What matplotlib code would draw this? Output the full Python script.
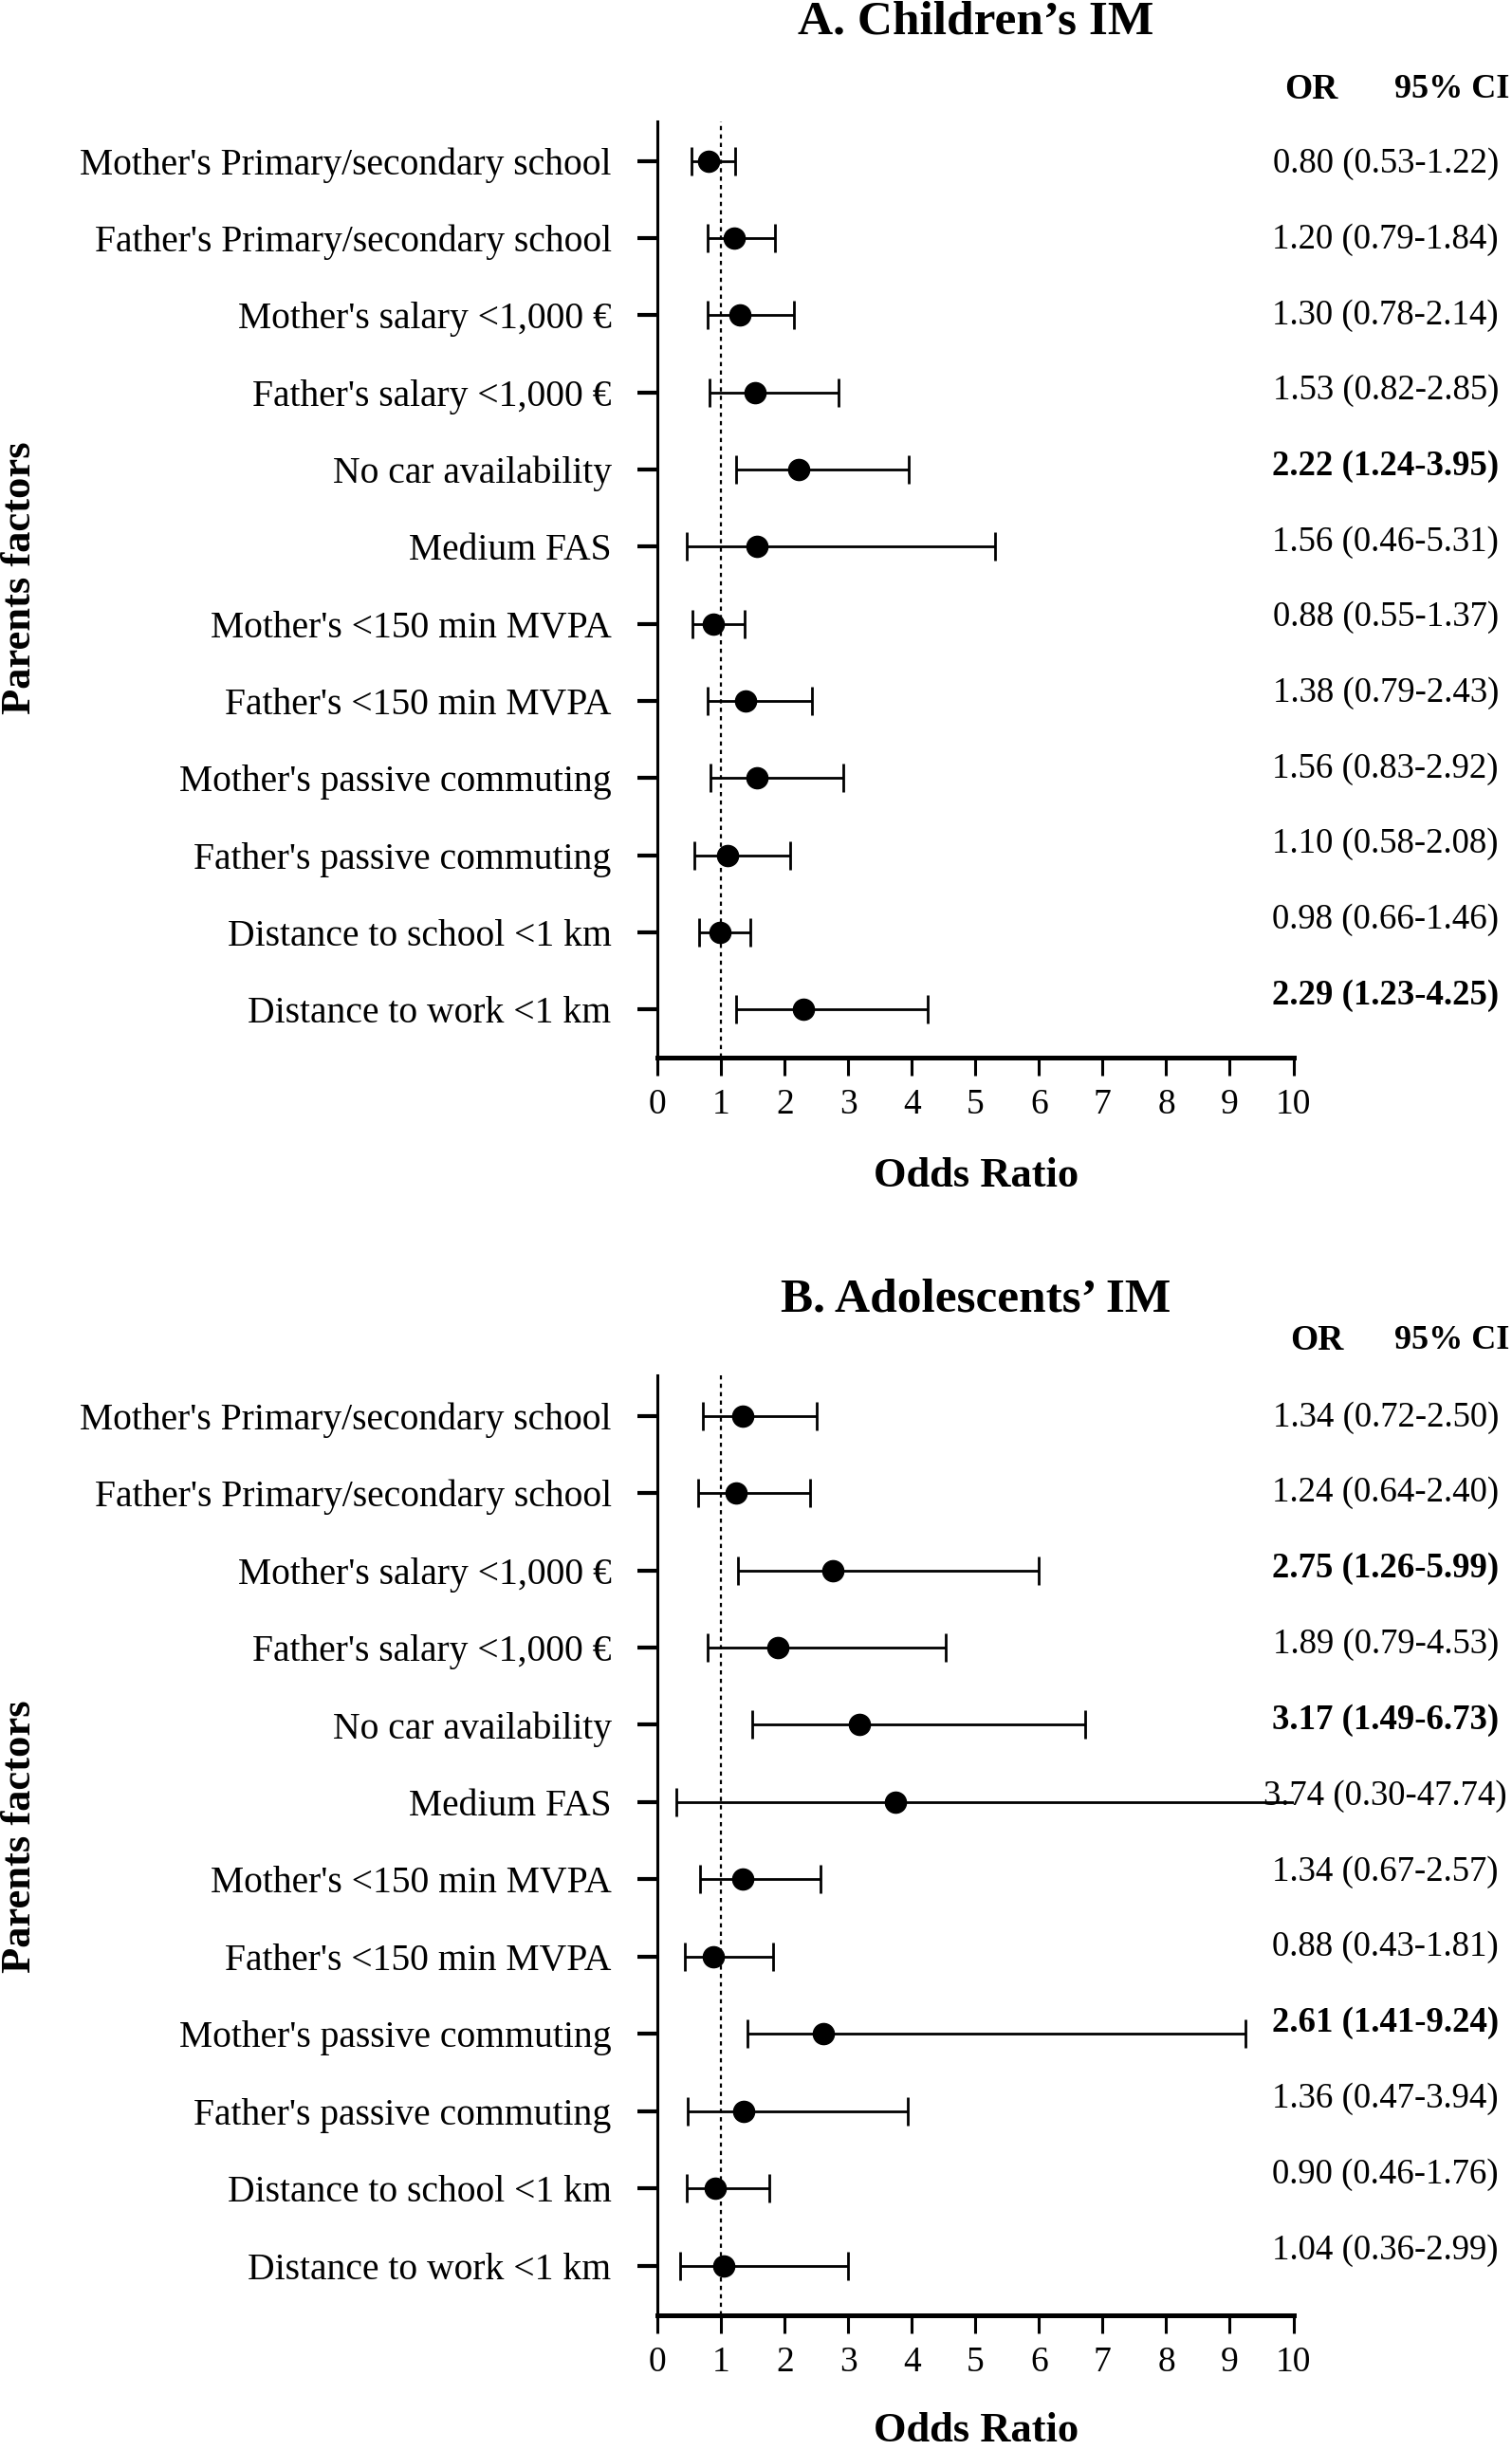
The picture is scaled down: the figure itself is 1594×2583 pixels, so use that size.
import matplotlib
matplotlib.use("Agg")
import matplotlib.pyplot as plt

plt.rcParams['font.family'] = ['Liberation Serif', 'DejaVu Serif']

# row labels, same for both panels (top to bottom)
factors = ["Mother's Primary/secondary school", "Father's Primary/secondary school",
           "Mother's salary <1,000 €", "Father's salary <1,000 €", "No car availability",
           "Medium FAS", "Mother's <150 min MVPA", "Father's <150 min MVPA",
           "Mother's passive commuting", "Father's passive commuting",
           "Distance to school <1 km", "Distance to work <1 km"]

# A. children
a_or = [0.80, 1.20, 1.30, 1.53, 2.22, 1.56, 0.88, 1.38, 1.56, 1.10, 0.98, 2.29]
a_lo = [0.53, 0.79, 0.78, 0.82, 1.24, 0.46, 0.55, 0.79, 0.83, 0.58, 0.66, 1.23]
a_hi = [1.22, 1.84, 2.14, 2.85, 3.95, 5.31, 1.37, 2.43, 2.92, 2.08, 1.46, 4.25]
a_bold = [4, 11]   # significant rows

# B. adolescents
b_or = [1.34, 1.24, 2.75, 1.89, 3.17, 3.74, 1.34, 0.88, 2.61, 1.36, 0.90, 1.04]
b_lo = [0.72, 0.64, 1.26, 0.79, 1.49, 0.30, 0.67, 0.43, 1.41, 0.47, 0.46, 0.36]
b_hi = [2.50, 2.40, 5.99, 4.53, 6.73, 47.74, 2.57, 1.81, 9.24, 3.94, 1.76, 2.99]
b_bold = [2, 4, 8]

xticks = list(range(11))

fig = plt.figure(figsize=(15.94, 25.83), dpi=100)


def panel(rect, title, odds, lo, hi, bold, ylim, title_y, head_y, or_x, txt0):
    ax = fig.add_axes(rect)
    y = list(range(len(factors)))
    xerr = [[o - l for o, l in zip(odds, lo)], [h - o for o, h in zip(odds, hi)]]
    ax.errorbar(odds, y, xerr=xerr, fmt='o', color='black', ms=16,
                capsize=11, elinewidth=2, capthick=2)
    ax.axvline(1, color='black', lw=1.6, ls=(0, (2, 2)))
    ax.set_xlim(0, 10)
    ax.set_ylim(*ylim)
    ax.set_xticks(xticks)
    ax.set_yticks(y)
    ax.set_yticklabels(factors)
    ax.tick_params(axis='y', length=15, width=3, pad=20, labelsize=28.5)
    ax.tick_params(axis='x', length=14, width=2.2, pad=9, labelsize=27)
    ax.spines['top'].set_visible(False)
    ax.spines['right'].set_visible(False)
    ax.spines['left'].set_linewidth(2.2)
    ax.spines['bottom'].set_linewidth(3.6)

    # OR (95% CI) column on the right
    ax.text(or_x, head_y, 'OR', ha='center', va='center', fontsize=27,
            fontweight='bold', clip_on=False)
    ax.text(12.49, head_y, '95% CI', ha='center', va='center', fontsize=26,
            fontweight='bold', clip_on=False)
    for i in y:
        s = '%.2f (%.2f-%.2f)' % (odds[i], lo[i], hi[i])
        ax.text(11.45, txt0 + 0.98 * i, s, ha='center', va='center', fontsize=26.5,
                fontweight='bold' if i in bold else 'normal', clip_on=False)

    ax.text(5, title_y, title, ha='center', va='center', fontsize=37,
            fontweight='bold', clip_on=False)
    return ax


panel([0.4349, 0.5682, 0.4205, 0.3821], "A. Children’s IM", a_or, a_lo, a_hi, a_bold,
      (11.63, -0.51), -1.8, -0.93, 10.28, 0.04)
panel([0.4349, 0.0548, 0.4205, 0.3840], "B. Adolescents’ IM", b_or, b_lo, b_hi, b_bold,
      (11.65, -0.53), -1.5, -0.97, 10.37, 0.02)

# axis titles
fig.text(0.6457, 0.5198, 'Odds Ratio', ha='center', va='center', fontsize=32, fontweight='bold')
fig.text(0.6457, 0.0077, 'Odds Ratio', ha='center', va='center', fontsize=32, fontweight='bold')
fig.text(0.0134, 0.764, 'Parents factors', ha='center', va='center', rotation=90,
         fontsize=32, fontweight='bold')
fig.text(0.0134, 0.2506, 'Parents factors', ha='center', va='center', rotation=90,
         fontsize=32, fontweight='bold')

fig.savefig('out.png', dpi=100)
